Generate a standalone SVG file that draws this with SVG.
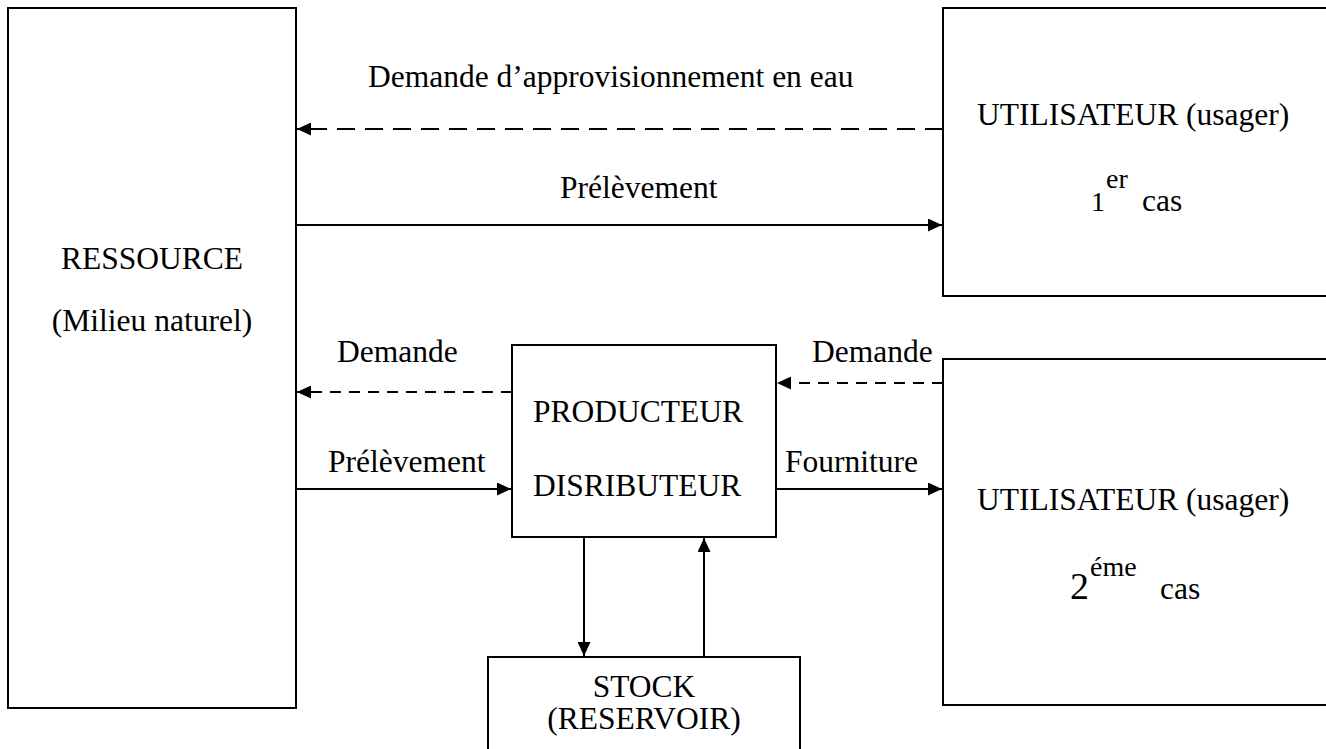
<svg xmlns="http://www.w3.org/2000/svg" width="1326" height="749" viewBox="0 0 1326 749">
  <style>
    .box { fill: #fff; stroke: #000; stroke-width: 2; }
    .t { font-family: "Liberation Serif", "Times New Roman", serif; font-size: 31.5px; fill: #000; }
    .sup { font-family: "Liberation Serif", "Times New Roman", serif; font-size: 28px; fill: #000; }
    .big { font-family: "Liberation Serif", "Times New Roman", serif; font-size: 38px; fill: #000; }
    .flow { fill: none; stroke: #000; stroke-width: 2; }
    .dash-long { stroke-dasharray: 18 10; }
    .dash-short { stroke-dasharray: 11 8; }
  </style>
  <defs>
    <marker id="arrow" markerUnits="userSpaceOnUse" markerWidth="15" markerHeight="13" refX="14" refY="6.5" orient="auto">
      <path d="M0,0 L14,6.5 L0,13 z" fill="#000"/>
    </marker>
  </defs>

  <rect width="1326" height="749" fill="#fff"/>

  <!-- Natural resource -->
  <g id="ressource">
    <rect class="box" x="8" y="8" width="288" height="700"/>
    <text class="t" x="152" y="269" text-anchor="middle">RESSOURCE</text>
    <text class="t" x="152" y="331" text-anchor="middle">(Milieu naturel)</text>
  </g>

  <!-- User, case 1 -->
  <g id="utilisateur1">
    <rect class="box" x="943" y="8" width="400" height="288"/>
    <text class="t" x="977" y="125">UTILISATEUR (usager)</text>
    <text class="sup" x="1091" y="211">1</text>
    <text class="sup" x="1106" y="188">er</text>
    <text class="t" x="1142" y="211">cas</text>
  </g>

  <!-- Producer / distributor -->
  <g id="producteur">
    <rect class="box" x="512" y="345" width="264" height="192"/>
    <text class="t" x="533" y="422">PRODUCTEUR</text>
    <text class="t" x="533" y="496">DISRIBUTEUR</text>
  </g>

  <!-- User, case 2 -->
  <g id="utilisateur2">
    <rect class="box" x="943" y="359" width="400" height="346"/>
    <text class="t" x="977" y="510">UTILISATEUR (usager)</text>
    <text class="big" x="1070" y="599">2</text>
    <text class="sup" x="1090" y="576">éme</text>
    <text class="t" x="1160" y="599">cas</text>
  </g>

  <!-- Storage -->
  <g id="stock">
    <rect class="box" x="488" y="657" width="312" height="110"/>
    <text class="t" x="644" y="697" text-anchor="middle">STOCK</text>
    <text class="t" x="644" y="729" text-anchor="middle">(RESERVOIR)</text>
  </g>

  <!-- Connectors -->
  <g id="connecteurs">
    <line class="flow dash-long" x1="943" y1="129" x2="297" y2="129" marker-end="url(#arrow)"/>
    <line class="flow" x1="296" y1="225" x2="942" y2="225" marker-end="url(#arrow)"/>
    <line class="flow dash-short" x1="512" y1="392" x2="297" y2="392" marker-end="url(#arrow)"/>
    <line class="flow" x1="296" y1="489" x2="511" y2="489" marker-end="url(#arrow)"/>
    <line class="flow dash-short" x1="943" y1="383" x2="777" y2="383" marker-end="url(#arrow)"/>
    <line class="flow" x1="776" y1="489" x2="942" y2="489" marker-end="url(#arrow)"/>
    <line class="flow" x1="584" y1="537" x2="584" y2="656" marker-end="url(#arrow)"/>
    <line class="flow" x1="704" y1="657" x2="704" y2="538" marker-end="url(#arrow)"/>
  </g>

  <!-- Connector labels -->
  <g id="libelles">
    <text class="t" x="368" y="87">Demande d’approvisionnement en eau</text>
    <text class="t" x="560" y="198">Prélèvement</text>
    <text class="t" x="337" y="362">Demande</text>
    <text class="t" x="328" y="472">Prélèvement</text>
    <text class="t" x="812" y="362">Demande</text>
    <text class="t" x="785" y="472">Fourniture</text>
  </g>
</svg>
